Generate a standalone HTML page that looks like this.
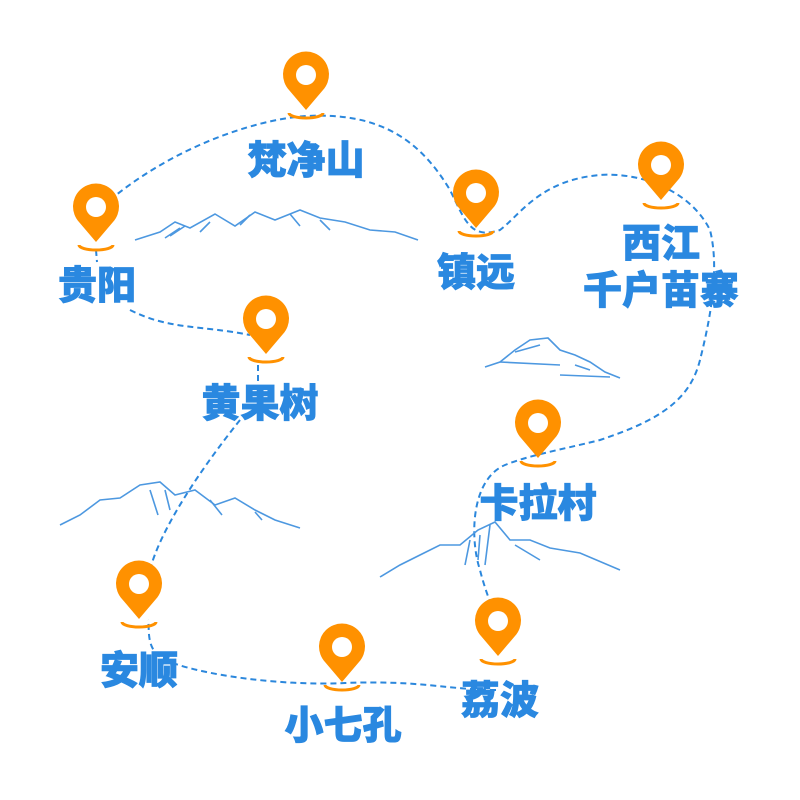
<!DOCTYPE html>
<html><head><meta charset="utf-8"><style>
html,body{margin:0;padding:0;background:#fff;}
svg{display:block}
text{font-family:"Liberation Sans","Noto Sans CJK SC",sans-serif;font-weight:900;fill:#2a88e0;font-size:39px;text-anchor:middle;stroke:#2a88e0;stroke-width:0.8}
</style></head><body>
<svg width="800" height="800" viewBox="0 0 800 800">
<defs>
<g id="pin">
<path d="M0,30 L-17,10 A23,23 0 1 1 17,10 Z" fill="#ff9100"/>
<circle cx="0" cy="-5" r="10" fill="#fff"/>
<path d="M-17,33 A17,5 0 0 0 17,33" fill="none" stroke="#ff9100" stroke-width="3"/>
</g>
</defs>
<g fill="none" stroke="#2b87dc" stroke-width="2" stroke-dasharray="6,4">
<path d="M110,200 C170,150 250,120 306,116 C380,112 420,140 450,190 C465,220 470,240 500,230 C520,215 540,180 600,175 C640,172 690,190 710,230 C720,270 710,320 700,360 C690,400 660,420 600,440 C560,450 530,455 505,465 C470,480 470,540 480,570 C485,590 490,600 492,610"/>
<path d="M496,690 C450,690 420,680 345,683 C280,686 200,675 165,660 C145,650 150,630 148,620"/>
<path d="M150,570 C160,530 200,470 240,420"/>
<path d="M258,365 L258,385"/>
<path d="M130,310 C170,330 200,325 250,335"/>
<path d="M96,250 L97,262"/>
</g>
<g fill="none" stroke="#4d98e0" stroke-width="1.6">
<path d="M135,240 L160,232 L175,222 L190,228 L215,214 L235,226 L255,212 L275,220 L300,210 L320,218 L345,222 L370,230 L395,232 L418,240"/>
<path d="M165,238 L180,228 M170,236 L185,226 M200,232 L210,222 M290,214 L300,226 M320,220 L330,230 M240,225 L250,215"/>
<path d="M485,367 L500,362 L515,350 L530,340 L548,338 L560,350 L575,355 L590,362 L605,372 L620,378"/>
<path d="M500,362 L560,365 M560,375 L610,377 M515,352 L540,345 M575,365 L590,370"/>
<path d="M60,525 L80,515 L100,500 L120,498 L140,485 L160,482 L175,495 L195,490 L215,505 L235,498 L255,510 L275,520 L300,528"/>
<path d="M150,490 L158,515 M210,500 L222,515 M255,512 L262,520 M165,490 L170,510"/>
<path d="M380,577 L400,565 L420,555 L440,545 L460,545 L478,530 L495,522 L510,540 L530,540 L550,548 L580,553 L620,570"/>
<path d="M490,525 L485,565 M470,540 L465,565 M515,545 L540,560 M480,535 L478,560"/>
</g>
<use href="#pin" x="306" y="80"/>
<use href="#pin" x="96" y="212"/>
<use href="#pin" x="476" y="198"/>
<use href="#pin" x="661" y="170"/>
<use href="#pin" x="266" y="324"/>
<use href="#pin" x="538" y="428"/>
<use href="#pin" x="139" y="589"/>
<use href="#pin" x="342" y="652"/>
<use href="#pin" x="498" y="626"/>
<text x="306" y="174">梵净山</text>
<text x="97" y="299">贵阳</text>
<text x="476" y="286">镇远</text>
<text x="661" y="257">西江</text>
<text x="661" y="304">千户苗寨</text>
<text x="260" y="417">黄果树</text>
<text x="538" y="517">卡拉村</text>
<text x="139" y="684">安顺</text>
<text x="343" y="739">小七孔</text>
<text x="500" y="714">荔波</text>
</svg>
</body></html>
